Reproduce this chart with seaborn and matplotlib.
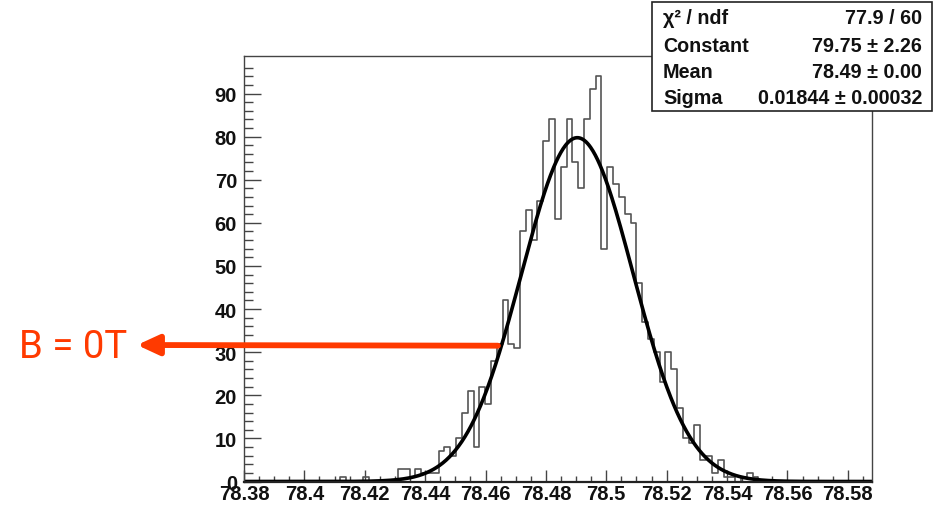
import numpy as np
import pandas as pd
import matplotlib
matplotlib.use("Agg")
import matplotlib.pyplot as plt
from matplotlib.patches import Rectangle
import seaborn as sns

# histogram (bin contents)
hist_start = 78.3809
bin_width = 0.001926
counts = [
    0, 0, 0, 0, 0, 0, 0, 0, 0, 0,
    0, 0, 0, 0, 0, 0, 1, 0, 0, 0,
    1, 0, 0, 0, 0, 0, 3, 3, 1, 3,
    2, 2, 2, 7, 8, 6, 10, 16, 21, 8,
    22, 18, 28, 32, 42, 32, 31, 58, 63, 56,
    65, 79, 84, 61, 73, 84, 74, 68, 84, 91,
    94, 54, 73, 69, 66, 62, 60, 46, 37, 33,
    30, 23, 30, 26, 17, 10, 9, 13, 5, 6,
    2, 5, 1, 1, 0, 1, 2, 1, 0, 0,
    0, 0, 0, 0, 0, 0, 0, 0, 0, 0,
    0, 0, 0, 0, 0, 0, 0, 0,
]

# gaussian fit result
fit_const = 79.75
fit_const_err = 2.26
fit_mean = 78.4904
fit_mean_err = 0.00
fit_sigma = 0.01844
fit_sigma_err = 0.00032
chi2 = 77.9
ndf = 60

x_range = (78.38, 78.588)
x_ticks = [78.38, 78.40, 78.42, 78.44, 78.46, 78.48, 78.50, 78.52, 78.54, 78.56, 78.58]
x_tick_labels = ["78.38", "78.4", "78.42", "78.44", "78.46", "78.48", "78.5", "78.52", "78.54", "78.56", "78.58"]
y_ticks = [0, 10, 20, 30, 40, 50, 60, 70, 80, 90]

arrow_start = (78.4641, 31.5)
arrow_label = "B = 0T"

W, H = 936, 506
sns.set_theme(style="white")
plt.rcParams["font.family"] = ["Liberation Sans", "DejaVu Sans"]

fig = plt.figure(figsize=(W / 100, H / 100), dpi=100)
ax = fig.add_axes([244 / W, 1 - 482.5 / H, (872 - 244) / W, (482.5 - 57) / H])

edges = hist_start + bin_width * np.arange(len(counts) + 1)
hist_df = pd.DataFrame({"x": 0.5 * (edges[:-1] + edges[1:]), "n": counts})
sns.histplot(data=hist_df, x="x", weights="n", bins=list(edges), element="step",
             fill=False, color="#555555", linewidth=1.2, ax=ax)

xs = np.linspace(x_range[0], x_range[1], 800)
ys = fit_const * np.exp(-0.5 * ((xs - fit_mean) / fit_sigma) ** 2)
sns.lineplot(x=xs, y=ys, color="black", linewidth=2.6, ax=ax)

ax.set_xlim(*x_range)
ax.set_ylim(0, 1.05 * max(counts))
ax.set_xlabel("")
ax.set_ylabel("")
ax.set_xticks(x_ticks)
ax.set_xticklabels(x_tick_labels)
ax.set_xticks(np.arange(78.385, 78.588, 0.005), minor=True)
ax.set_yticks(y_ticks)
ax.set_yticks(np.arange(0, 98, 2), minor=True)

for lab in ax.get_xticklabels() + ax.get_yticklabels():
    lab.set_fontweight("bold")
    lab.set_fontsize(14.5)
    lab.set_color("#111111")

ax.tick_params(axis="x", which="major", direction="in", length=8.8, width=1, pad=2, color="#444444")
ax.tick_params(axis="x", which="minor", direction="in", length=4.3, width=1, color="#444444")
ax.tick_params(axis="y", which="major", direction="in", length=12, width=1, pad=5, color="#444444")
ax.tick_params(axis="y", which="minor", direction="in", length=6.3, width=1, color="#444444")
ax.tick_params(bottom=True, left=True, top=False, right=False)
ax.tick_params(which="minor", bottom=True, left=True, top=False, right=False)

for side in ["left", "right", "top"]:
    ax.spines[side].set_color("#444444")
    ax.spines[side].set_linewidth(1)
ax.spines["bottom"].set_color("#222222")
ax.spines["bottom"].set_linewidth(1.6)

# statistics box
box = Rectangle((652 / W, 1 - 112 / H), (932 - 652) / W, (112 - 3) / H,
                transform=fig.transFigure, facecolor="white", edgecolor="#222222",
                linewidth=1.2, zorder=5)
fig.patches.append(box)
rows = [
    ("χ² / ndf", f"{chi2:.1f} / {ndf}"),
    ("Constant", f"{fit_const:.2f} ± {fit_const_err:.2f}"),
    ("Mean", f"{fit_mean:.2f} ± {fit_mean_err:.2f}"),
    ("Sigma", f"{fit_sigma:.5f} ± {fit_sigma_err:.5f}"),
]
row_y = [18, 47, 73, 99]
for (name, val), yy in zip(rows, row_y):
    fig.text(663 / W, 1 - yy / H, name, ha="left", va="center", fontsize=14.2,
             fontweight="bold", color="#111111", zorder=6)
    fig.text(922 / W, 1 - yy / H, val, ha="right", va="center", fontsize=14.2,
             fontweight="bold", color="#111111", zorder=6)

# red arrow with label
red = "#ff3a00"
ax.annotate("", xy=(137, H - 346), xycoords="figure pixels",
            xytext=arrow_start, textcoords="data",
            arrowprops=dict(arrowstyle="-|>,head_length=1.3,head_width=0.6",
                            color=red, lw=4.2, shrinkA=0, shrinkB=0,
                            mutation_scale=10),
            annotation_clip=False)
fig.text(19 / W, 1 - 348 / H, arrow_label, ha="left", va="center", fontsize=27.5,
         color=red, family=["Roboto", "DejaVu Sans"])

fig.savefig("out.png", dpi=100)
